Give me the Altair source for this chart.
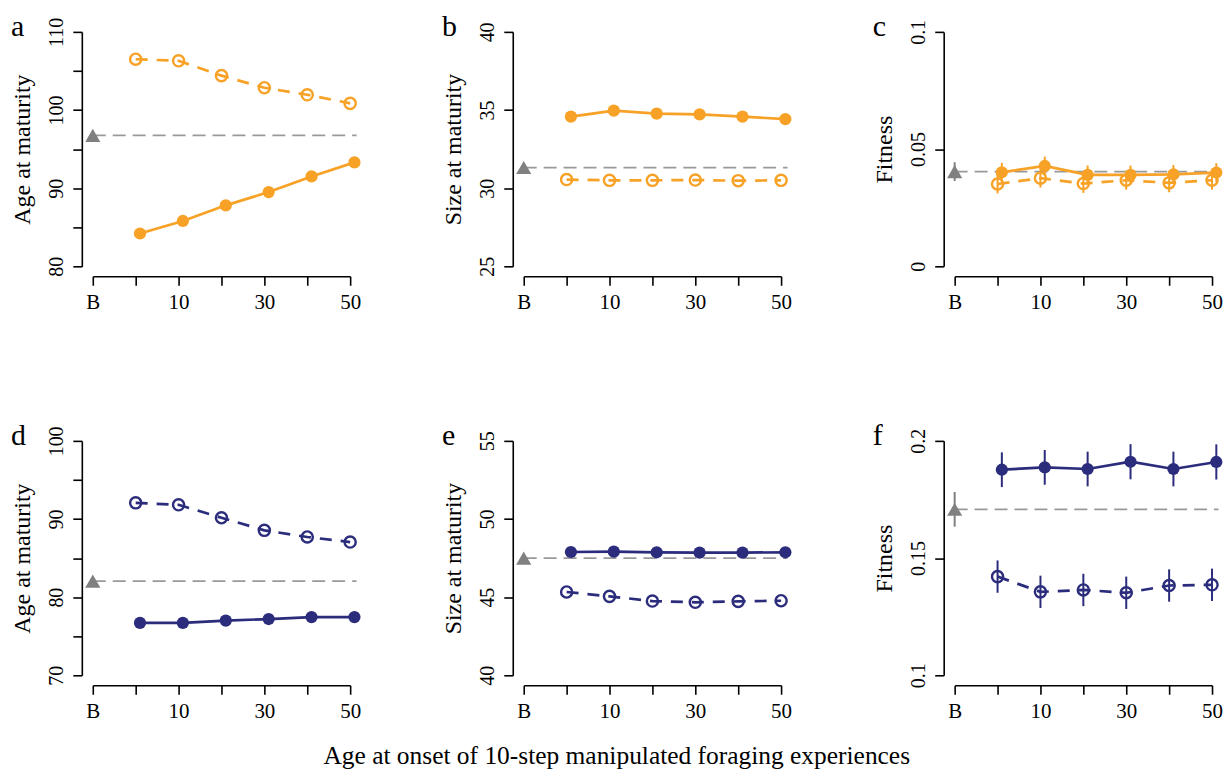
import altair as alt
import pandas as pd

FONT = "Liberation Serif"
ORANGE = "#F7A226"
NAVY = "#2B2C7C"
GRAY = "#808080"
DASHGRAY = "#999999"

# x positions (age at onset); "B" = baseline placed at -10
x_tick_values = [-10, 0, 10, 20, 30, 40, 50]
x_tick_labels = ["B", "", "10", "", "30", "", "50"]
onset = [0, 10, 20, 30, 40, 50]
DODGE = 1  # filled series drawn slightly to the right
BASE_X = -10
BASE_X_END = 51.5

# ---- panel a : Age at maturity (orange)
a_filled = [84.2, 85.8, 87.8, 89.5, 91.5, 93.3]
a_open = [106.5, 106.3, 104.4, 102.85, 101.95, 100.85]
a_base = 96.75
a_yticks = [80, 85, 90, 95, 100, 105, 110]
a_ylabels = ["80", "", "90", "", "100", "", "110"]

# ---- panel b : Size at maturity (orange)
b_filled = [34.58, 34.96, 34.77, 34.72, 34.58, 34.42]
b_open = [30.55, 30.5, 30.5, 30.52, 30.48, 30.5]
b_base = 31.32
b_yticks = [25, 30, 35, 40]
b_ylabels = ["25", "30", "35", "40"]

# ---- panel c : Fitness (orange)
c_filled = [0.0401, 0.0428, 0.0390, 0.0390, 0.0392, 0.0400]
c_filled_err = [0.004, 0.004, 0.004, 0.004, 0.004, 0.004]
c_open = [0.0351, 0.0376, 0.0353, 0.0367, 0.0356, 0.0367]
c_open_err = [0.004, 0.004, 0.004, 0.004, 0.004, 0.004]
c_base = 0.0404
c_base_err = 0.004
c_yticks = [0, 0.05, 0.1]
c_ylabels = ["0", "0.05", "0.1"]

# ---- panel d : Age at maturity (navy)
d_filled = [76.7, 76.7, 77.0, 77.2, 77.45, 77.45]
d_open = [92.07, 91.82, 90.16, 88.55, 87.7, 87.05]
d_base = 82.05
d_yticks = [70, 75, 80, 85, 90, 95, 100]
d_ylabels = ["70", "", "80", "", "90", "", "100"]

# ---- panel e : Size at maturity (navy)
e_filled = [47.89, 47.91, 47.87, 47.85, 47.85, 47.87]
e_open = [45.33, 45.05, 44.75, 44.67, 44.73, 44.77]
e_base = 47.5
e_yticks = [40, 45, 50, 55]
e_ylabels = ["40", "45", "50", "55"]

# ---- panel f : Fitness (navy)
f_filled = [0.1877, 0.1887, 0.1880, 0.1911, 0.1880, 0.1910]
f_filled_err = [0.0074, 0.0074, 0.0074, 0.0075, 0.0074, 0.0075]
f_open = [0.1421, 0.1356, 0.1364, 0.1352, 0.1383, 0.1386]
f_open_err = [0.0069, 0.0069, 0.0069, 0.0069, 0.0069, 0.0069]
f_base = 0.1708
f_base_err = 0.0074
f_yticks = [0.1, 0.15, 0.2]
f_ylabels = ["0.1", "0.15", "0.2"]

X_TITLE = "Age at onset of 10-step manipulated foraging experiences"

W, H = 258, 235


def label_expr(values, labels):
    parts = [f"datum.value == {v} ? '{l}' : " for v, l in zip(values, labels)]
    return "".join(parts) + "''"


def panel(letter, ylab, ydom, yticks, ylabels, filled, open_, base, color,
          f_err=None, o_err=None, b_err=None):
    xs = alt.Scale(domain=[x_tick_values[0], x_tick_values[-1]], nice=False, zero=False)
    ys = alt.Scale(domain=ydom, nice=False, zero=False)
    xaxis = alt.Axis(title=None, values=x_tick_values,
                     labelExpr=label_expr(x_tick_values, x_tick_labels),
                     offset=10, tickSize=9, labelPadding=6, labelFont=FONT,
                     labelFontSize=21, labelColor="black", domainColor="black",
                     tickColor="black", domainWidth=1.6, tickWidth=1.6, grid=False,
                     labelOverlap=False, labelFlush=False)
    yaxis = alt.Axis(title=ylab, values=yticks,
                     labelExpr=label_expr(yticks, ylabels),
                     offset=11, tickSize=9, labelAngle=270, labelAlign="center",
                     labelBaseline="bottom", labelPadding=6, labelFont=FONT,
                     labelFontSize=20, labelColor="black", titleFont=FONT,
                     titleFontSize=24, titleFontWeight="normal", titleColor="black",
                     titlePadding=12, domainColor="black", tickColor="black",
                     domainWidth=1.6, tickWidth=1.6, grid=False, labelOverlap=False,
                     labelFlush=False)

    df_f = pd.DataFrame({"x": [v + DODGE for v in onset], "y": filled})
    df_o = pd.DataFrame({"x": onset, "y": open_})
    df_b = pd.DataFrame({"x": [BASE_X], "x2": [BASE_X_END], "y": [base]})

    X = alt.X("x:Q", scale=xs, axis=xaxis)
    Y = alt.Y("y:Q", scale=ys, axis=yaxis)

    layers = []
    layers.append(alt.Chart(df_b).mark_rule(color=DASHGRAY, strokeWidth=1.7,
                                            strokeDash=[13, 7]).encode(x=X, x2="x2:Q", y=Y))
    if b_err is not None:
        df_be = pd.DataFrame({"x": [BASE_X], "lo": [base - b_err], "hi": [base + b_err]})
        layers.append(alt.Chart(df_be).mark_rule(color=GRAY, strokeWidth=2).encode(
            x=X, y=alt.Y("lo:Q", scale=ys, axis=yaxis), y2="hi:Q"))
    layers.append(alt.Chart(df_b).mark_point(shape="triangle-up", filled=True, size=230,
                                             color=GRAY, opacity=1).encode(x=X, y=Y))
    if o_err is not None:
        df_oe = pd.DataFrame({"x": onset, "lo": [v - e for v, e in zip(open_, o_err)],
                              "hi": [v + e for v, e in zip(open_, o_err)]})
        layers.append(alt.Chart(df_oe).mark_rule(color=color, strokeWidth=2).encode(
            x=X, y=alt.Y("lo:Q", scale=ys, axis=yaxis), y2="hi:Q"))
    layers.append(alt.Chart(df_o).mark_line(color=color, strokeWidth=2.7,
                                            strokeDash=[12, 9]).encode(x=X, y=Y))
    layers.append(alt.Chart(df_o).mark_point(shape="circle", filled=False, size=125,
                                             strokeWidth=2.4, color=color, opacity=1).encode(x=X, y=Y))
    if f_err is not None:
        df_fe = pd.DataFrame({"x": [v + DODGE for v in onset],
                              "lo": [v - e for v, e in zip(filled, f_err)],
                              "hi": [v + e for v, e in zip(filled, f_err)]})
        layers.append(alt.Chart(df_fe).mark_rule(color=color, strokeWidth=2).encode(
            x=X, y=alt.Y("lo:Q", scale=ys, axis=yaxis), y2="hi:Q"))
    layers.append(alt.Chart(df_f).mark_line(color=color, strokeWidth=2.7).encode(x=X, y=Y))
    layers.append(alt.Chart(df_f).mark_circle(size=150, color=color, opacity=1).encode(x=X, y=Y))
    letter_df = pd.DataFrame({"t": [letter]})
    layers.append(alt.Chart(letter_df).mark_text(font=FONT, fontSize=30, align="left",
                                                 baseline="alphabetic", color="black").encode(
        text="t:N", x=alt.value(-82), y=alt.value(4)))
    return alt.layer(*layers).properties(width=W, height=H)


pa = panel("a", "Age at maturity", [80, 110], a_yticks, a_ylabels, a_filled, a_open, a_base, ORANGE)
pb = panel("b", "Size at maturity", [25, 40], b_yticks, b_ylabels, b_filled, b_open, b_base, ORANGE)
pc = panel("c", "Fitness", [0, 0.1], c_yticks, c_ylabels, c_filled, c_open, c_base, ORANGE,
           f_err=c_filled_err, o_err=c_open_err, b_err=c_base_err)
pd_ = panel("d", "Age at maturity", [70, 100], d_yticks, d_ylabels, d_filled, d_open, d_base, NAVY)
pe = panel("e", "Size at maturity", [40, 55], e_yticks, e_ylabels, e_filled, e_open, e_base, NAVY)
pf = panel("f", "Fitness", [0.1, 0.2], f_yticks, f_ylabels, f_filled, f_open, f_base, NAVY,
           f_err=f_filled_err, o_err=f_open_err, b_err=f_base_err)

chart = alt.concat(pa, pb, pc, pd_, pe, pf, columns=3,
                   spacing={"row": 175, "column": 174}, bounds="flush").properties(
    padding={"left": 3, "top": 3, "right": 0, "bottom": 0},
    title=alt.TitleParams(X_TITLE, orient="bottom", anchor="middle", font=FONT,
                          fontSize=25.5, fontWeight="normal", color="black", offset=23),
).configure(background="white", view=alt.ViewConfig(stroke=None))

chart.save("out.html", embed_options={"renderer": "svg", "actions": False})
